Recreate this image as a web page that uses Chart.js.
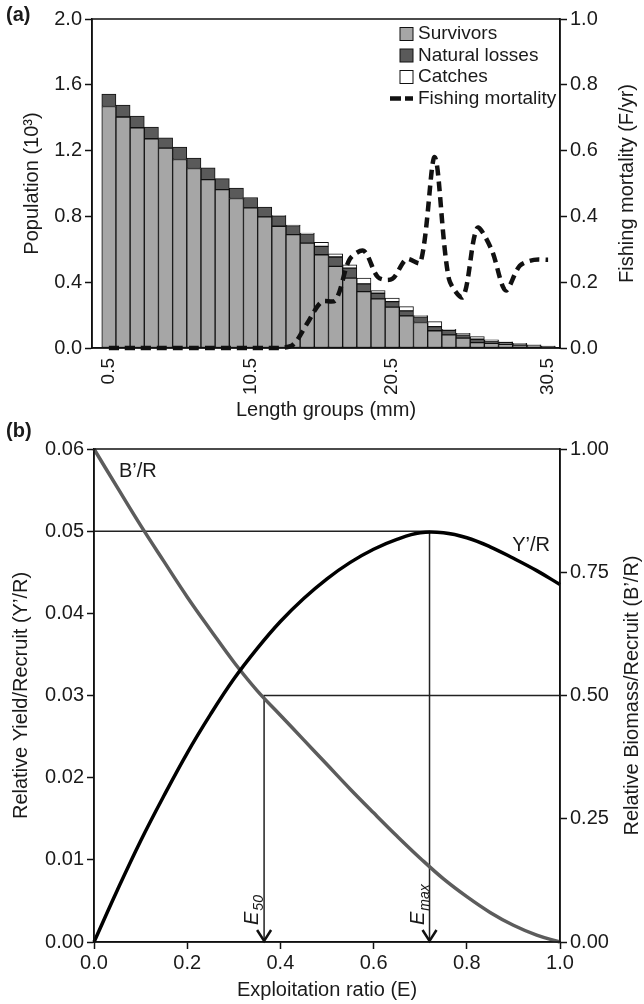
<!DOCTYPE html>
<html>
<head>
<meta charset="utf-8">
<script src="https://cdn.jsdelivr.net/npm/chart.js@4.4.0/dist/chart.umd.min.js"></script>
<style>
  body { margin: 0; background: #fff; }
  #wrap { position: relative; width: 644px; height: 1004px; }
  canvas { position: absolute; left: 0; }
  #chartA { top: 0; }
  #chartB { top: 420px; }
</style>
</head>
<body>
<div id="wrap">
  <canvas id="chartA" width="644" height="440"></canvas>
  <canvas id="chartB" width="644" height="584"></canvas>
</div>
<script>
const FONT = '"Liberation Sans", Arial, sans-serif';
Chart.defaults.font.family = FONT;
Chart.defaults.font.size = 20;
Chart.defaults.color = '#1a1a1a';
Chart.defaults.animation = false;

// ---- panel (a) data ----
const lengthGroups = ['0.5','1.5','2.5','3.5','4.5','5.5','6.5','7.5','8.5','9.5',
  '10.5','11.5','12.5','13.5','14.5','15.5','16.5','17.5','18.5','19.5',
  '20.5','21.5','22.5','23.5','24.5','25.5','26.5','27.5','28.5','29.5','30.5','31.5'];
// which groups carry a label under the axis, and the text shown there
const xTickIdx = [0, 10, 20, 31];
const xTickText = ['0.5', '10.5', '20.5', '30.5'];

const survivors = [1.468, 1.404, 1.339, 1.272, 1.215, 1.146, 1.091, 1.024, 0.963, 0.909,
  0.852, 0.797, 0.740, 0.689, 0.638, 0.567, 0.496, 0.425, 0.343, 0.299,
  0.248, 0.195, 0.155, 0.105, 0.080, 0.060, 0.033, 0.028, 0.022, 0.018, 0.012, 0.008];
const naturalLosses = [0.075, 0.072, 0.071, 0.071, 0.063, 0.075, 0.063, 0.072, 0.067, 0.063,
  0.063, 0.060, 0.063, 0.055, 0.056, 0.051, 0.057, 0.061, 0.047, 0.034,
  0.034, 0.031, 0.035, 0.025, 0.028, 0.020, 0.020, 0.015, 0.012, 0.008, 0.005, 0.003];
const catches = [0, 0, 0, 0, 0, 0, 0, 0, 0, 0,
  0, 0, 0.002, 0.003, 0.005, 0.024, 0.020, 0.020, 0.035, 0.016,
  0.021, 0.026, 0.007, 0.030, 0.006, 0.009, 0.016, 0.006, 0.004, 0.003, 0.002, 0.001];
const fishingMortality = [0, 0, 0, 0, 0, 0, 0, 0, 0, 0,
  0, 0, 0, 0.01, 0.075, 0.14, 0.145, 0.27, 0.295, 0.215,
  0.21, 0.27, 0.26, 0.58, 0.21, 0.155, 0.365, 0.30, 0.175, 0.25, 0.268, 0.268];

// ---- panel (b) data ----
const exploitation = [0, 0.05, 0.1, 0.15, 0.2, 0.25, 0.3, 0.35, 0.4, 0.45, 0.5,
  0.55, 0.6, 0.65, 0.7, 0.75, 0.8, 0.85, 0.9, 0.95, 1.0];
const yieldPerRecruit = [0, 0.0063, 0.0123, 0.0178, 0.0230, 0.0277, 0.0320, 0.0357, 0.0390, 0.0418, 0.0442,
  0.0462, 0.0478, 0.0490, 0.0498, 0.0498, 0.0492, 0.0481, 0.0467, 0.0452, 0.0435];
const biomassPerRecruit = [1.0, 0.922, 0.845, 0.772, 0.700, 0.633, 0.568, 0.51, 0.46, 0.41, 0.36,
  0.31, 0.262, 0.215, 0.17, 0.128, 0.092, 0.06, 0.034, 0.014, 0.0];
const eMax = 0.72, yMax = 0.05;   // maximum Y'/R
const e50 = 0.365, b50 = 0.5;     // B'/R halved

const INK = '#111';

function axisGrid() {
  return { drawOnChartArea: false, tickLength: 7, color: INK, tickColor: INK, tickWidth: 1.5 };
}
const axisBorder = { color: INK, width: 1.5 };

function drawBox(chart) {
  const ca = chart.chartArea, ctx = chart.ctx;
  ctx.save();
  ctx.strokeStyle = INK;
  ctx.lineWidth = 1.5;
  ctx.strokeRect(ca.left, ca.top, ca.right - ca.left, ca.bottom - ca.top);
  ctx.restore();
}

function drawUpText(ctx, text, x, y, font) {
  ctx.save();
  ctx.translate(x, y);
  ctx.rotate(-Math.PI / 2);
  ctx.font = font;
  ctx.fillStyle = '#1a1a1a';
  ctx.textAlign = 'center';
  ctx.textBaseline = 'middle';
  ctx.fillText(text, 0, 0);
  ctx.restore();
}

const panelA = {
  id: 'panelA',
  afterDraw(chart) {
    const ctx = chart.ctx, ca = chart.chartArea;
    drawBox(chart);
    ctx.save();
    ctx.fillStyle = '#1a1a1a';
    ctx.font = 'bold 20px ' + FONT;
    ctx.textBaseline = 'middle';
    ctx.fillText('(a)', 6, 15);
    ctx.restore();
    drawUpText(ctx, 'Fishing mortality (F/yr)', 627, (ca.top + ca.bottom) / 2, '20px ' + FONT);

    // legend in the top right corner of the plot
    const lx = 400, ly = 34, row = 21.5;
    ctx.save();
    ctx.font = '19px ' + FONT;
    ctx.textBaseline = 'middle';
    chart.data.datasets.forEach((ds, i) => {
      const y = ly + i * row;
      if (ds.type === 'line') {
        ctx.strokeStyle = ds.borderColor;
        ctx.lineWidth = 4.5;
        ctx.setLineDash([11, 4]);
        ctx.beginPath();
        ctx.moveTo(lx - 10, y);
        ctx.lineTo(lx + 13, y);
        ctx.stroke();
        ctx.setLineDash([]);
      } else {
        ctx.fillStyle = ds.backgroundColor;
        ctx.fillRect(lx, y - 6.5, 13, 13);
        ctx.strokeStyle = INK;
        ctx.lineWidth = 1;
        ctx.strokeRect(lx, y - 6.5, 13, 13);
      }
      ctx.fillStyle = '#1a1a1a';
      ctx.fillText(ds.label, lx + 18, y);
    });
    ctx.restore();
  }
};

const byGroup = vals => vals.map((v, i) => ({ x: i, y: v }));

new Chart(document.getElementById('chartA'), {
  type: 'bar',
  data: {
    labels: lengthGroups,
    datasets: [
      { label: 'Survivors', data: byGroup(survivors), backgroundColor: '#a6a6a6', stack: 'pop', order: 2 },
      { label: 'Natural losses', data: byGroup(naturalLosses), backgroundColor: '#5a5a5a', stack: 'pop', order: 2 },
      { label: 'Catches', data: byGroup(catches), backgroundColor: '#ffffff', stack: 'pop', order: 2 },
      { type: 'line', label: 'Fishing mortality', data: byGroup(fishingMortality), yAxisID: 'y1',
        borderColor: INK, borderWidth: 4.5, borderDash: [10, 6], pointRadius: 0,
        tension: 0.3, clip: false, order: 1 }
    ]
  },
  options: {
    responsive: false,
    layout: { padding: { top: 19, bottom: 14, left: 0, right: 0 } },
    datasets: { bar: { barPercentage: 1, categoryPercentage: 1, borderColor: INK, borderWidth: 1, borderSkipped: false } },
    plugins: { legend: { display: false }, tooltip: { enabled: false } },
    scales: {
      x: {
        type: 'linear', stacked: true, min: -1.19, max: 31.84, offset: false,
        grid: { display: false, tickLength: 8 },
        border: axisBorder,
        afterBuildTicks: s => { s.ticks = xTickIdx.map(v => ({ value: v })); },
        ticks: { autoSkip: false, minRotation: 90, maxRotation: 90, padding: 2, font: { size: 19 },
          callback: v => xTickText[xTickIdx.indexOf(v)] },
        title: { display: true, text: 'Length groups (mm)', padding: { top: 0, bottom: 4 } },
        afterFit: s => { s.height = 78; }
      },
      y: {
        stacked: true, min: 0, max: 2,
        ticks: { stepSize: 0.4, padding: 3, callback: v => v.toFixed(1) },
        grid: axisGrid(), border: axisBorder,
        title: { display: true, text: 'Population (10³)', padding: { top: 20, bottom: 0 } },
        afterFit: s => { s.width = 92; }
      },
      y1: {
        position: 'right', min: 0, max: 1,
        ticks: { stepSize: 0.2, padding: 3, callback: v => v.toFixed(1) },
        grid: axisGrid(), border: axisBorder,
        afterFit: s => { s.width = 84; }
      }
    }
  },
  plugins: [panelA]
});

function drawSubLabel(ctx, x, y, main, sub) {
  ctx.save();
  ctx.translate(x, y);
  ctx.rotate(-Math.PI / 2);
  ctx.fillStyle = '#1a1a1a';
  ctx.textAlign = 'left';
  ctx.textBaseline = 'alphabetic';
  ctx.font = 'italic 20px ' + FONT;
  ctx.fillText(main, 0, 0);
  const w = ctx.measureText(main).width;
  ctx.font = 'italic 14px ' + FONT;
  ctx.fillText(sub, w + 1, 5);
  ctx.restore();
}

function drawArrowHead(ctx, x, y) {
  ctx.save();
  ctx.strokeStyle = INK;
  ctx.lineWidth = 2.5;
  ctx.beginPath();
  ctx.moveTo(x - 7, y - 12);
  ctx.lineTo(x, y - 1);
  ctx.lineTo(x + 7, y - 12);
  ctx.stroke();
  ctx.restore();
}

const panelB = {
  id: 'panelB',
  afterDraw(chart) {
    const ctx = chart.ctx, ca = chart.chartArea;
    const sx = chart.scales.x, sy = chart.scales.y;
    drawBox(chart);
    ctx.save();
    ctx.fillStyle = '#1a1a1a';
    ctx.font = 'bold 20px ' + FONT;
    ctx.textBaseline = 'middle';
    ctx.fillText('(b)', 6, 11);
    ctx.font = '20px ' + FONT;
    ctx.textAlign = 'center';
    ctx.fillText('B’/R', sx.getPixelForValue(0.094), sy.getPixelForValue(0.0573));
    ctx.fillText('Y’/R', sx.getPixelForValue(0.938), sy.getPixelForValue(0.0482));
    ctx.restore();
    drawUpText(ctx, 'Relative Biomass/Recruit (B’/R)', 632, (ca.top + ca.bottom) / 2, '20px ' + FONT);

    const x50 = sx.getPixelForValue(e50), xMx = sx.getPixelForValue(eMax);
    drawArrowHead(ctx, x50, ca.bottom);
    drawArrowHead(ctx, xMx, ca.bottom);
    drawSubLabel(ctx, x50 - 6, ca.bottom - 17, 'E', '50');
    drawSubLabel(ctx, xMx - 6, ca.bottom - 17, 'E', 'max');
  }
};

const pts = vals => exploitation.map((e, i) => ({ x: e, y: vals[i] }));

new Chart(document.getElementById('chartB'), {
  type: 'line',
  data: {
    datasets: [
      { label: 'Y’/R', data: pts(yieldPerRecruit), yAxisID: 'y', borderColor: '#000', borderWidth: 3.5,
        pointRadius: 0, tension: 0.4, clip: 4 },
      { label: 'B’/R', data: pts(biomassPerRecruit), yAxisID: 'y1', borderColor: '#5c5c5c', borderWidth: 3.5,
        pointRadius: 0, tension: 0.4, clip: 4 },
      { label: 'Emax', data: [{ x: 0, y: yMax }, { x: eMax, y: yMax }, { x: eMax, y: 0 }], yAxisID: 'y',
        borderColor: '#222', borderWidth: 1.5, pointRadius: 0, tension: 0 },
      { label: 'E50', data: [{ x: 1, y: b50 }, { x: e50, y: b50 }, { x: e50, y: 0 }], yAxisID: 'y1',
        borderColor: '#222', borderWidth: 1.5, pointRadius: 0, tension: 0 }
    ]
  },
  options: {
    responsive: false,
    layout: { padding: { top: 29, bottom: 0, left: 0, right: 0 } },
    plugins: { legend: { display: false }, tooltip: { enabled: false } },
    scales: {
      x: {
        type: 'linear', min: 0, max: 1,
        ticks: { stepSize: 0.2, padding: 2, callback: v => v.toFixed(1) },
        grid: axisGrid(), border: axisBorder,
        title: { display: true, text: 'Exploitation ratio (E)', padding: { top: 0, bottom: 2 } },
        afterFit: s => { s.height = 62; }
      },
      y: {
        min: 0, max: 0.06,
        ticks: { stepSize: 0.01, padding: 3, callback: v => v.toFixed(2) },
        grid: axisGrid(), border: axisBorder,
        title: { display: true, text: 'Relative Yield/Recruit (Y’/R)', padding: { top: 9, bottom: 0 } },
        afterFit: s => { s.width = 94; }
      },
      y1: {
        position: 'right', min: 0, max: 1,
        ticks: { stepSize: 0.25, padding: 3, callback: v => v.toFixed(2) },
        grid: axisGrid(), border: axisBorder,
        afterFit: s => { s.width = 84; }
      }
    }
  },
  plugins: [panelB]
});
</script>
</body>
</html>
